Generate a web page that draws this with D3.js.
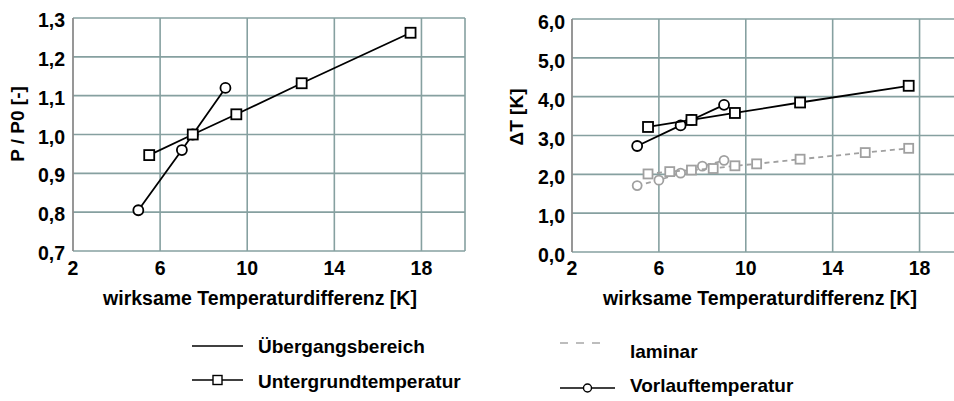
<!DOCTYPE html>
<html>
<head>
<meta charset="utf-8">
<script src="https://cdn.jsdelivr.net/npm/d3@7"></script>
<style>
  body { margin: 0; background: #fff; }
  svg { display: block; font-family: "Liberation Sans", Arial, sans-serif; }
</style>
</head>
<body>
<svg id="chart" width="954" height="401"></svg>
<script>
// x ticks shared by both panels
var xTicks = [2, 6, 10, 14, 18];

// left panel: P / P0
var pTicks = [0.7, 0.8, 0.9, 1.0, 1.1, 1.2, 1.3];
var pUntergrund = [[5.5, 0.947], [7.5, 1.0], [9.5, 1.052], [12.5, 1.132], [17.5, 1.262]];
var pVorlauf = [[5, 0.805], [7, 0.96], [7.5, 1.0], [9, 1.12]];

// right panel: delta T
var tTicks = [0, 1, 2, 3, 4, 5, 6];
var tUntergrund = [[5.5, 3.22], [7.5, 3.4], [9.5, 3.58], [12.5, 3.85], [17.5, 4.28]];
var tVorlauf = [[5, 2.73], [7, 3.26], [7.5, 3.4], [9, 3.79]];
var tUntergrundLam = [[5.5, 2.01], [6.5, 2.07], [7.5, 2.11], [8.5, 2.15], [9.5, 2.22], [10.5, 2.27], [12.5, 2.39], [15.5, 2.56], [17.5, 2.67]];
var tVorlaufLam = [[5, 1.71], [6, 1.85], [7, 2.03], [8, 2.21], [9, 2.36]];

var comma = d3.formatLocale({decimal: ",", thousands: ".", grouping: [3], currency: ["", "€"]}).format(".1f");

var svg = d3.select("#chart");
var gridColor = "#86a0a0";

function panel(opt) {
    var x = d3.scaleLinear().domain([2, 20]).range([opt.left, opt.right]);
    var y = d3.scaleLinear().domain(opt.yDomain).range([opt.bottom, opt.top]);
    var g = svg.append("g");

    //grid
    g.selectAll(".hg").data(opt.yTicks).enter().append("line")
        .attr("x1", x(2)).attr("x2", x(20))
        .attr("y1", function(d) { return y(d); }).attr("y2", function(d) { return y(d); })
        .attr("stroke", gridColor).attr("stroke-width", 1.6);
    g.selectAll(".vg").data(xTicks.slice(1).concat([20])).enter().append("line")
        .attr("x1", function(d) { return x(d); }).attr("x2", function(d) { return x(d); })
        .attr("y1", y(opt.yDomain[0])).attr("y2", y(opt.yDomain[1]))
        .attr("stroke", gridColor).attr("stroke-width", 1.6);
    g.append("line")
        .attr("x1", x(2)).attr("x2", x(2))
        .attr("y1", y(opt.yDomain[0])).attr("y2", y(opt.yDomain[1]))
        .attr("stroke", "#8c8c8c").attr("stroke-width", 1.8);

    //tick labels
    g.selectAll(".yl").data(opt.yTicks).enter().append("text")
        .attr("x", x(2) - opt.labelGap).attr("y", function(d) { return y(d) + opt.labelDy; })
        .attr("text-anchor", "end").attr("font-size", 19.5).attr("font-weight", "bold")
        .text(function(d) { return comma(d); });
    g.selectAll(".xl").data(xTicks).enter().append("text")
        .attr("x", function(d) { return x(d); }).attr("y", 275)
        .attr("text-anchor", "middle").attr("font-size", 19.5).attr("font-weight", "bold")
        .text(function(d) { return d; });

    //titles
    g.append("text").attr("x", opt.xTitleX).attr("y", 305)
        .attr("text-anchor", "middle").attr("font-size", 19.5).attr("font-weight", "bold")
        .text("wirksame Temperaturdifferenz [K]");
    g.append("text")
        .attr("transform", "translate(" + opt.yTitleX + "," + opt.yTitleY + ") rotate(-90)")
        .attr("text-anchor", "middle").attr("font-size", 19).attr("font-weight", "bold")
        .text(opt.yTitle);

    return {x: x, y: y, g: g};
}

function series(p, data, marker, color, dashed, size) {
    var line = d3.line().x(function(d) { return p.x(d[0]); }).y(function(d) { return p.y(d[1]); });
    p.g.append("path").datum(data)
        .attr("d", line).attr("fill", "none")
        .attr("stroke", color).attr("stroke-width", 1.8)
        .attr("stroke-dasharray", dashed ? "5,4" : null);
    if (marker === "square") {
        p.g.selectAll(null).data(data).enter().append("rect")
            .attr("x", function(d) { return p.x(d[0]) - size / 2; })
            .attr("y", function(d) { return p.y(d[1]) - size / 2; })
            .attr("width", size).attr("height", size)
            .attr("fill", "#fff").attr("stroke", color).attr("stroke-width", 1.8);
    } else {
        p.g.selectAll(null).data(data).enter().append("circle")
            .attr("cx", function(d) { return p.x(d[0]); })
            .attr("cy", function(d) { return p.y(d[1]); })
            .attr("r", size / 2)
            .attr("fill", "#fff").attr("stroke", color).attr("stroke-width", 1.8);
    }
}

var left = panel({left: 73, right: 465, top: 18, bottom: 251, yDomain: [0.7, 1.3], yTicks: pTicks,
    labelGap: 8, labelDy: 9, xTitleX: 260, yTitle: "P / P0 [-]", yTitleX: 24, yTitleY: 124});
series(left, pVorlauf, "circle", "#000", false, 10);
series(left, pUntergrund, "square", "#000", false, 10);

var right = panel({left: 572, right: 963, top: 19, bottom: 252, yDomain: [0, 6], yTicks: tTicks,
    labelGap: 7, labelDy: 10, xTitleX: 760, yTitle: "ΔT [K]", yTitleX: 523, yTitleY: 117});
series(right, tVorlaufLam, "circle", "#a0a0a0", true, 9);
series(right, tUntergrundLam, "square", "#a0a0a0", true, 9);
series(right, tVorlauf, "circle", "#000", false, 10);
series(right, tUntergrund, "square", "#000", false, 10);

//legend
var legend = [
    {label: "Übergangsbereich", x: 192, w: 51, y: 346, ty: 353, color: "#000", dash: null, marker: null, tx: 258},
    {label: "Untergrundtemperatur", x: 192, w: 51, y: 380, ty: 388, color: "#000", dash: null, marker: "square", tx: 258},
    {label: "laminar", x: 560, w: 48, y: 343, ty: 358, color: "#a8a8a8", dash: "8,8", marker: null, tx: 630},
    {label: "Vorlauftemperatur", x: 560, w: 55, y: 388, ty: 392, color: "#000", dash: null, marker: "circle", tx: 630}
];
var lg = svg.append("g");
legend.forEach(function(d) {
    lg.append("line").attr("x1", d.x).attr("x2", d.x + d.w).attr("y1", d.y).attr("y2", d.y)
        .attr("stroke", d.color).attr("stroke-width", 1.5).attr("stroke-dasharray", d.dash);
    if (d.marker === "square") {
        lg.append("rect").attr("x", d.x + d.w / 2 - 4.5).attr("y", d.y - 4.5).attr("width", 9).attr("height", 9)
            .attr("fill", "#fff").attr("stroke", "#000").attr("stroke-width", 1.4);
    } else if (d.marker === "circle") {
        lg.append("circle").attr("cx", d.x + d.w / 2).attr("cy", d.y).attr("r", 4)
            .attr("fill", "#fff").attr("stroke", "#000").attr("stroke-width", 1.4);
    }
    lg.append("text").attr("x", d.tx).attr("y", d.ty).attr("font-size", 19).attr("font-weight", "bold").text(d.label);
});
</script>
</body>
</html>
